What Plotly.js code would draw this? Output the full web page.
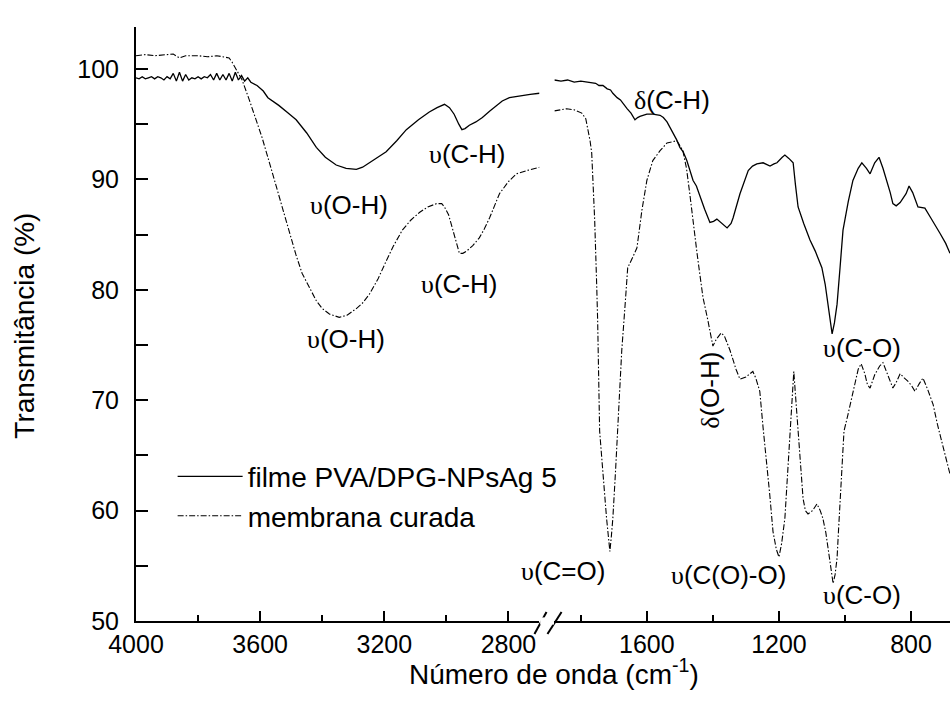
<!DOCTYPE html>
<html>
<head>
<meta charset="utf-8">
<script src="https://cdn.plot.ly/plotly-3.0.1.min.js"></script>
<style>body{margin:0;background:#fff;} #chart{width:950px;height:713px;}</style>
</head>
<body>
<div id="chart"></div>
<script>
// ---- Data: filme PVA/DPG-NPsAg 5 (solid) ----
const filmeHighWn = [4000,3990,3980,3970,3960,3950,3940,3930,3920,3910,3900,3890,3880,3870,3860,3850,3840,3830,3820,3810,3800,3790,3780,3770,3760,3750,3740,3730,3720,3710,3700,3690,3680,3670,3660,3650,3640,3630,3610,3590,3575,3560,3540,3510,3484,3450,3419,3390,3355,3323,3290,3270,3248,3220,3194,3160,3129,3090,3055,3030,3006,2990,2975,2960,2950,2940,2926,2905,2884,2860,2839,2820,2797,2760,2730,2700];
const filmeHighT  = [99.2,99.1,99.3,99.1,99.2,99.3,99.1,99.3,99.2,99.0,99.3,99.1,99.6,98.9,99.7,98.9,99.5,99.0,99.2,99.1,99.3,99.1,99.3,99.2,99.5,99.0,99.6,99.0,99.5,99.0,99.6,98.9,99.7,99.0,99.4,98.9,99.2,98.8,98.5,98.0,97.4,97.1,96.7,96.0,95.4,94.2,92.9,92.0,91.3,91.0,90.9,91.1,91.5,92.0,92.5,93.5,94.5,95.4,96.1,96.5,96.8,96.5,95.9,95.0,94.5,94.6,94.9,95.2,95.6,96.2,96.7,97.1,97.4,97.6,97.7,97.8];
const filmeLowWn  = [1880,1860,1840,1820,1800,1773,1755,1745,1733,1720,1710,1703,1690,1680,1673,1660,1648,1636,1628,1621,1600,1582,1560,1550,1539,1521,1510,1500,1490,1479,1460,1450,1439,1425,1409,1398,1388,1370,1357,1345,1339,1318,1305,1293,1280,1267,1248,1235,1227,1215,1206,1190,1182,1170,1157,1150,1142,1125,1106,1090,1070,1060,1051,1045,1039,1032,1024,1015,1006,990,976,960,949,935,924,910,897,885,873,863,855,845,833,815,806,795,779,758,740,725,712,695,682];
const filmeLowT   = [99.0,98.9,99.0,98.8,98.9,98.8,98.7,98.5,98.5,98.2,98.1,97.8,97.4,97.2,96.9,96.4,96.0,95.4,95.6,95.7,95.9,95.9,95.8,95.6,95.2,94.2,93.6,92.9,92.5,91.7,89.9,89.4,88.4,87.3,86.1,86.2,86.4,85.9,85.6,86.0,86.5,88.7,89.8,90.8,91.2,91.4,91.5,91.3,91.2,91.4,91.5,92.0,92.2,91.9,91.5,89.5,87.5,86.0,84.5,83.5,82.0,80.5,78.7,77.3,76.0,77.0,78.7,82.0,85.4,88.0,89.9,91.0,91.5,91.0,90.5,91.5,92.0,91.0,89.9,88.8,87.8,87.6,87.9,88.7,89.4,88.8,87.5,87.4,86.5,85.8,85.1,84.2,83.3];

// ---- Data: membrana curada (dash-dot) ----
const membHighWn = [4000,3970,3940,3910,3880,3860,3840,3800,3770,3740,3710,3700,3690,3675,3658,3635,3615,3594,3570,3548,3525,3506,3485,3465,3440,3419,3400,3377,3345,3320,3290,3270,3248,3220,3194,3170,3142,3115,3087,3060,3032,3015,3006,2993,2981,2970,2958,2947,2935,2915,2894,2878,2861,2845,2829,2800,2774,2740,2700];
const membHighT  = [101.2,101.3,101.2,101.3,101.35,101.0,101.2,101.2,101.1,101.2,101.1,101.0,100.6,99.9,99.0,97.2,95.5,93.8,91.5,89.3,87.2,85.1,83.2,81.5,80.1,79.0,78.3,77.8,77.5,77.7,78.3,78.8,79.6,81.0,82.6,84.0,85.4,86.3,87.0,87.5,87.8,87.8,87.5,86.8,85.6,84.4,83.3,83.3,83.5,84.0,84.7,85.5,86.5,87.6,88.7,89.8,90.5,90.8,91.1];
const membLowWn  = [1880,1860,1843,1820,1797,1785,1779,1772,1767,1762,1758,1752,1749,1743,1733,1722,1716,1712,1708,1703,1695,1688,1676,1665,1658,1645,1630,1615,1600,1582,1560,1539,1509,1491,1480,1470,1460,1448,1440,1430,1415,1403,1400,1390,1375,1365,1348,1330,1318,1300,1279,1270,1258,1248,1236,1228,1218,1208,1200,1192,1182,1175,1167,1160,1155,1150,1142,1135,1127,1120,1112,1098,1085,1075,1067,1058,1051,1043,1036,1030,1024,1020,1015,1008,1003,991,980,970,960,951,940,932,924,910,895,885,870,855,845,833,820,809,798,788,775,764,750,733,720,705,690,682];
const membLowT   = [96.2,96.3,96.4,96.3,96.0,95.5,94.7,93.5,92.4,89.5,86.3,80.5,77.2,67.2,63.0,59.3,57.5,56.3,57.5,59.3,63.5,67.2,74.5,79.0,82.0,82.8,83.8,87.2,89.9,91.7,92.6,93.3,93.5,92.6,91.0,88.7,86.0,83.3,81.5,79.3,77.2,75.4,74.9,75.5,76.1,75.8,74.5,72.8,71.9,72.1,72.6,72.0,70.8,67.5,64.2,61.5,58.1,56.5,55.8,57.0,59.3,63.0,67.2,70.5,72.6,70.5,67.2,64.0,61.1,60.0,59.7,60.0,60.6,60.0,59.3,58.0,56.5,55.0,53.4,54.2,55.7,58.0,61.1,64.5,67.2,68.7,70.2,71.7,72.8,73.3,72.4,71.4,71.1,72.3,73.1,73.4,72.2,71.1,71.6,72.4,72.0,71.7,71.3,70.8,71.5,72.0,71.0,69.6,67.8,66.0,64.3,63.3];

// ---- Tick values ----
const yTicks = [50,60,70,80,90,100];
const yMinor = [55,65,75,85,95];
const xHighTicks = [4000,3600,3200,2800];
const xHighMinor = [3800,3400,3000];
const xLowTicks = [1600,1200,800];
const xLowMinor = [1800,1400,1000];

const seriesNames = ['filme PVA/DPG-NPsAg 5','membrana curada'];

const solid = {color:'black', width:1.3, dash:'solid'};
const dashdot = {color:'black', width:1.1, dash:'6px,2px,1.5px,2px'};

const traces = [
  {x:filmeHighWn, y:filmeHighT, xaxis:'x', yaxis:'y', mode:'lines', line:solid, name:seriesNames[0], legendgroup:'a', showlegend:true},
  {x:membHighWn, y:membHighT, xaxis:'x', yaxis:'y', mode:'lines', line:dashdot, name:seriesNames[1], legendgroup:'b', showlegend:true},
  {x:filmeLowWn, y:filmeLowT, xaxis:'x2', yaxis:'y', mode:'lines', line:solid, name:seriesNames[0], legendgroup:'a', showlegend:false},
  {x:membLowWn, y:membLowT, xaxis:'x2', yaxis:'y', mode:'lines', line:dashdot, name:seriesNames[1], legendgroup:'b', showlegend:false}
];

const ups = '<span style="font-family:\'Liberation Serif\',\'Times New Roman\',serif">υ</span>';
const del = '<span style="font-family:\'Liberation Serif\',\'Times New Roman\',serif">δ</span>';

function ann(text, xref, x, y, extra){
  return Object.assign({text:text, xref:xref, yref:'y', x:x, y:y, showarrow:false, xanchor:'center', yanchor:'middle', font:{size:26, color:'black'}}, extra||{});
}

const annotations = [
  ann(ups+'(O-H)', 'x', 3313, 87.7),
  ann(ups+'(C-H)', 'x', 2932, 92.3),
  ann(ups+'(O-H)', 'x', 3323, 75.5),
  ann(ups+'(C-H)', 'x', 2958, 80.5),
  ann(del+'(C-H)', 'x2', 1524, 97.2),
  ann(del+'(O-H)', 'x2', 1407, 70.9, {textangle:-90}),
  ann(ups+'(C-O)', 'x2', 947, 74.7),
  ann(ups+'(C=O)', 'x2', 1855, 54.5),
  ann(ups+'(C(O)-O)', 'x2', 1354, 54.2),
  ann(ups+'(C-O)', 'x2', 947, 52.4),
  {text:'Número de onda (cm<sup>-1</sup>)', xref:'paper', yref:'paper', x:0.514, y:-0.086, xanchor:'center', yanchor:'middle', showarrow:false, font:{size:28, color:'black'}},
  {text:'Transmitância (%)', xref:'paper', yref:'paper', x:-0.1365, y:0.497, xanchor:'center', yanchor:'middle', textangle:-90, showarrow:false, font:{size:28, color:'black'}}
];

const axisCommon = {
  showline:true, linewidth:2, linecolor:'black', showgrid:false, zeroline:false,
  ticks:'inside', tickwidth:2, tickcolor:'black', tickfont:{size:25, color:'black'}
};

const layout = {
  width:950, height:713,
  margin:{l:136, r:0, t:27, b:92},
  paper_bgcolor:'white', plot_bgcolor:'white',
  font:{family:'"Liberation Sans", Arial, sans-serif', color:'black'},
  showlegend:true,
  legend:{x:0.045, y:0.285, xanchor:'left', yanchor:'top', bgcolor:'rgba(0,0,0,0)', font:{size:28}, itemwidth:65, tracegroupgap:0},
  xaxis: Object.assign({}, axisCommon, {domain:[0,0.4957], range:[4000,2700], tickmode:'array', tickvals:xHighTicks, ticklen:10, anchor:'y',
         minor:{tickmode:'array', tickvals:xHighMinor, ticks:'inside', ticklen:6, tickwidth:2, tickcolor:'black', showgrid:false}}),
  xaxis2: Object.assign({}, axisCommon, {domain:[0.514,1], range:[1880,682], tickmode:'array', tickvals:xLowTicks, ticklen:10, anchor:'y',
         minor:{tickmode:'array', tickvals:xLowMinor, ticks:'inside', ticklen:6, tickwidth:2, tickcolor:'black', showgrid:false}}),
  yaxis: Object.assign({}, axisCommon, {range:[50,103.8], tickmode:'array', tickvals:yTicks, ticklen:12, ticklabelstandoff:10,
         minor:{tickmode:'array', tickvals:yMinor, ticks:'inside', ticklen:12, tickwidth:2, tickcolor:'black', showgrid:false}}),
  shapes:[
    {type:'line', xref:'paper', yref:'paper', x0:0.4895, y0:-0.022, x1:0.5043, y1:0.0152, line:{color:'black', width:2}},
    {type:'line', xref:'paper', yref:'paper', x0:0.5055, y0:-0.022, x1:0.5228, y1:0.0152, line:{color:'black', width:2}},
    {type:'rect', xref:'paper', yref:'paper', x0:0.4965, y0:-0.006, x1:0.5135, y1:0.006, line:{width:0}, fillcolor:'white', layer:'above'}
  ],
  annotations:annotations
};

Plotly.newPlot('chart', traces, layout, {displayModeBar:false, staticPlot:true});
</script>
</body>
</html>
